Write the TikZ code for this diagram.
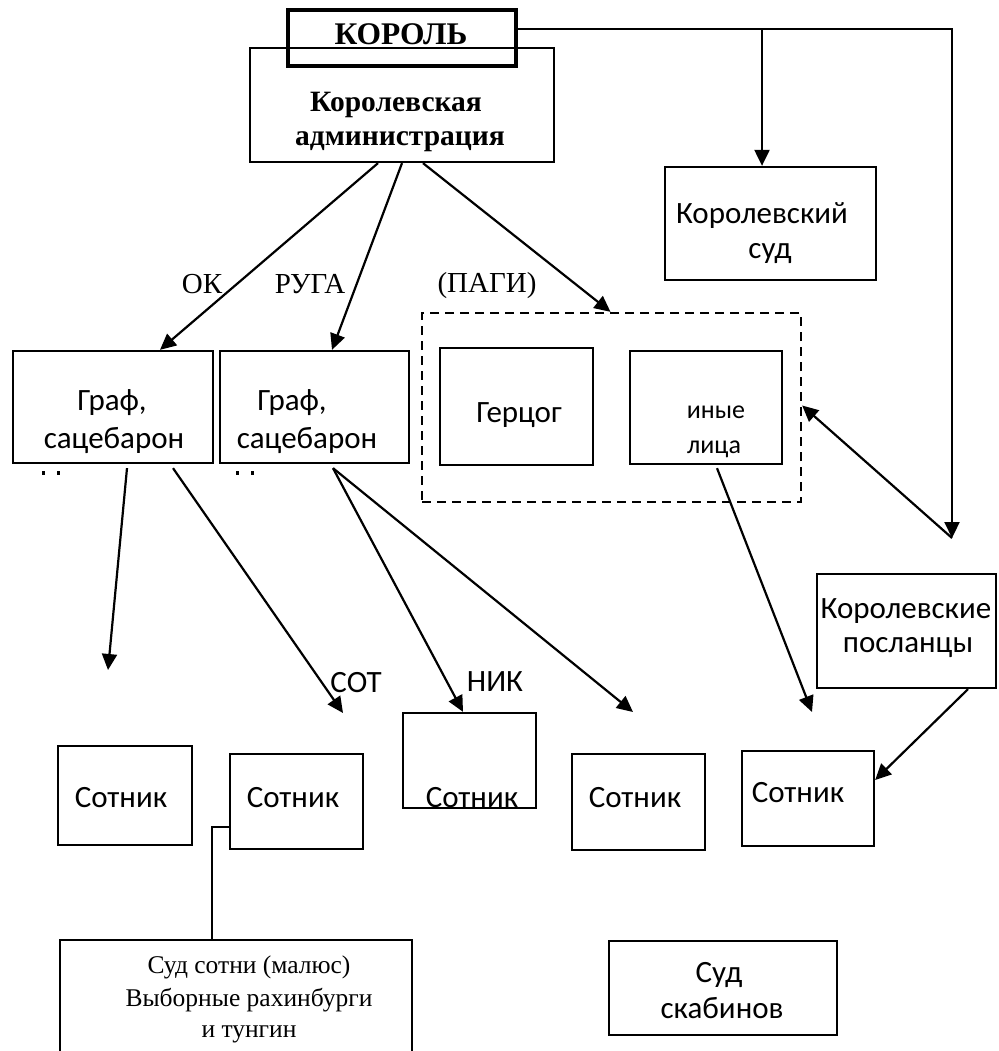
\documentclass[tikz,border=0pt]{standalone}
\usepackage{fontspec}
\setmainfont{Liberation Serif}
\newfontfamily\calfont{Carlito}
\usetikzlibrary{arrows.meta}
\begin{document}
\begin{tikzpicture}[x=1pt,y=-1pt,
  box/.style={draw, line width=2.3pt, inner sep=0pt, rectangle},
  arr/.style={line width=2.2pt, -{Triangle[length=16pt,width=15pt]}},
  ln/.style={line width=2.2pt},
  ct/.style={font=\calfont\fontsize{31}{37}\selectfont, inner sep=0pt, anchor=base},
  cs/.style={font=\calfont\fontsize{26}{31}\selectfont, inner sep=0pt, anchor=base},
  tl/.style={font=\fontsize{29}{34}\selectfont, inner sep=0pt, anchor=base},
  tb/.style={font=\bfseries\fontsize{29.5}{34}\selectfont, inner sep=0pt, anchor=base},
  ts/.style={font=\fontsize{25.5}{30}\selectfont, inner sep=0pt, anchor=base}]
\useasboundingbox (0,0) rectangle (998,1051);
\clip (0,0) rectangle (998,1051);

% boxes
\node[box, minimum width=304pt, minimum height=114pt] (admin) at (402,105) {};
\node[box, line width=3.4pt, minimum width=228pt, minimum height=56pt] (king) at (402,38) {};
\node[box, minimum width=211pt, minimum height=113pt] (ksud) at (770.5,223.5) {};
\node[box, minimum width=200pt, minimum height=112pt] (graf1) at (113,407) {};
\node[box, minimum width=189pt, minimum height=112pt] (graf2) at (314.5,407) {};
\node[box, dash pattern=on 9pt off 6pt, minimum width=379pt, minimum height=189pt] (pagi) at (611.5,407.5) {};
\node[box, minimum width=153pt, minimum height=117pt] (gerz) at (516.5,406.5) {};
\node[box, minimum width=152pt, minimum height=113pt] (inye) at (706,407.5) {};
\node[box, minimum width=179pt, minimum height=114pt] (posl) at (906.5,631) {};
\node[box, minimum width=134pt, minimum height=99pt] (s1) at (125,795.5) {};
\node[box, minimum width=133pt, minimum height=95pt] (s2) at (296.5,801.5) {};
\node[box, minimum width=133pt, minimum height=95pt] (s3) at (469.5,760.5) {};
\node[box, minimum width=133pt, minimum height=96pt] (s4) at (638.5,802) {};
\node[box, minimum width=132pt, minimum height=95pt] (s5) at (808,798.5) {};
\node[box, minimum width=352pt, minimum height=130pt] (sud) at (236,1005) {};
\node[box, minimum width=228pt, minimum height=94pt] (skab) at (723,988) {};

% texts
\node[tb, font=\bfseries\fontsize{31.5}{36}\selectfont] (kingt) at (401,45) {КОРОЛЬ};
\node[tb] (admt1) at (396,112) {Королевская};
\node[tb] (admt2) at (400,146) {администрация};
\node[ct] (ksudt1) at (762,223) {Королевский};
\node[ct] (ksudt2) at (770,258) {суд};
\node[ct] (g1t1) at (112,410) {Граф,};
\node[ct] (g1t2) at (114,448) {сацебарон};
\node[ct] (g2t1) at (292,410) {Граф,};
\node[ct] (g2t2) at (307,448) {сацебарон};
\node[ct] (gzt) at (519,422) {Герцог};
\node[cs] (iyt1) at (716,418) {иные};
\node[cs] (iyt2) at (714,453) {лица};
\node[ct] (plt1) at (906,618) {Королевские};
\node[ct] (plt2) at (908,652) {посланцы};
\node[ct] (s1t) at (121,807) {Сотник};
\node[ct] (s2t) at (293,807) {Сотник};
\node[ct] (s3t) at (472,807) {Сотник};
\node[ct] (s4t) at (635,807) {Сотник};
\node[ct] (s5t) at (798,802) {Сотник};
\node[ts] (sdt1) at (249,973) {Суд сотни (малюс)};
\node[ts] (sdt2) at (249,1006) {Выборные рахинбурги};
\node[ts] (sdt3) at (249,1037) {и тунгин};
\node[ct] (skt1) at (719,982) {Суд};
\node[ct] (skt2) at (722,1018) {скабинов};

% labels
\node[tl] (lok) at (202,293) {ОК};
\node[tl] (lruga) at (310,293) {РУГА};
\node[tl] (lpagi) at (487,292) {(ПАГИ)};
\node[ct] (lsot) at (356,692) {СОТ};
\node[ct] (lnik) at (495,691) {НИК};

% clipped text remnants
\fill (42,471) rectangle (45,475);
\fill (57,471) rectangle (60,475);
\fill (236,471) rectangle (239,475);
\fill (251,471) rectangle (254,475);

% coordinates
\coordinate (ne) at (952,29);
\coordinate (rj) at (952,538);
\coordinate (ks) at ([xshift=-8.5pt]ksud.north);
\coordinate (t1) at (108,670);
\coordinate (t2) at (343,713);
\coordinate (t4) at (633,712);
\coordinate (t5) at (812,712);
\coordinate (sj) at ([xshift=-24pt]sud.north);

% connectors
\draw[arr] ([xshift=-24pt]admin.south) -- ([xshift=47pt]graf1.north);
\draw[arr] (admin.south) -- ([xshift=17.5pt]graf2.north);
\draw[arr] ([xshift=21pt]admin.south) -- ([xshift=-1pt]pagi.north);
\draw[arr] ([yshift=9pt]king.east) -- (ne) -- (rj);
\draw[arr] (ks |- ne) -- (ks);
\draw[arr] (rj) -- ([yshift=2pt]pagi.east);
\draw[arr] ([xshift=14pt,yshift=-4pt]graf1.south) -- (t1);
\draw[arr] ([xshift=60pt,yshift=-4pt]graf1.south) -- (t2);
\draw[arr] ([xshift=18.5pt,yshift=-4pt]graf2.south) -- ([xshift=-6.5pt]s3.north);
\draw[arr] ([xshift=18.5pt,yshift=-4pt]graf2.south) -- (t4);
\draw[arr] ([xshift=11pt,yshift=-3pt]inye.south) -- (t5);
\draw[arr] ([xshift=61.5pt]posl.south) -- ([yshift=18.5pt]s5.east);
\draw[ln] ([yshift=-25.5pt]s2.west) -| (sj);
\end{tikzpicture}
\end{document}
